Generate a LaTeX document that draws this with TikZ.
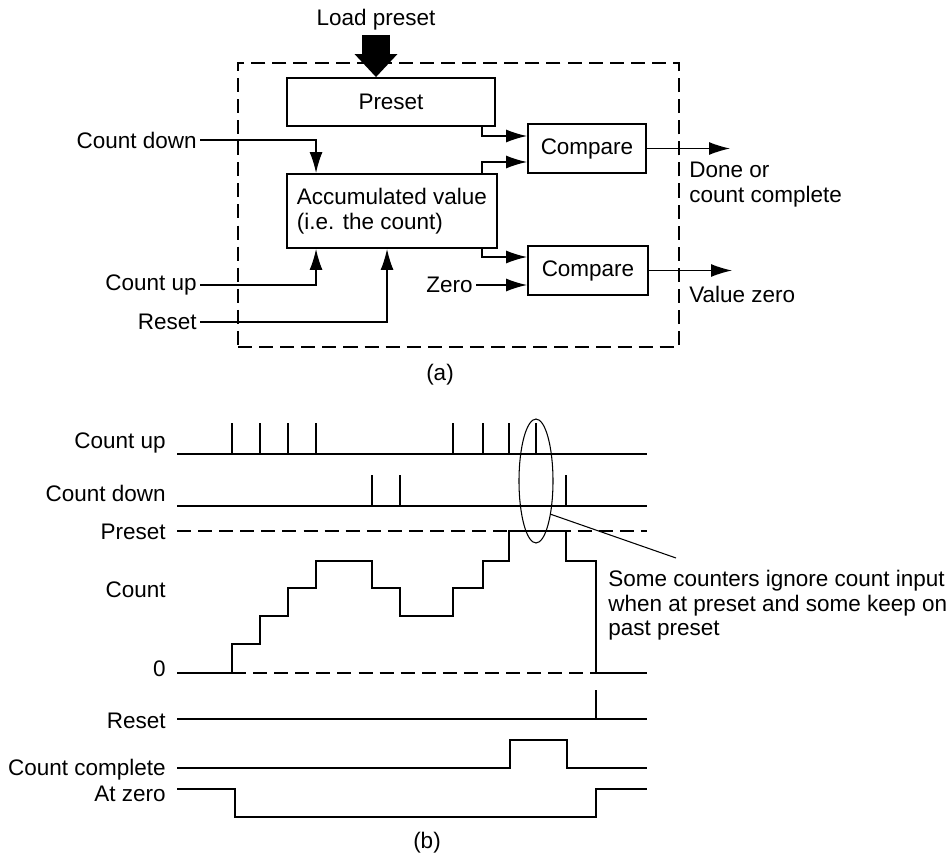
\documentclass[tikz,border=0pt]{standalone}
\usepackage{fontspec}
\setmainfont{Liberation Sans}
\usetikzlibrary{arrows.meta,positioning,calc,shapes.geometric}

\begin{document}
\begin{tikzpicture}[
  x=0.02cm, y=-0.02cm,
  font=\fontsize{12.8}{13.9}\selectfont,
  >={Latex[length=0.42cm,width=0.26cm]},
  block/.style={draw, line width=1.1pt, align=center, inner sep=0pt},
  unitframe/.style={draw, line width=0.7pt, dash pattern=on 8pt off 4pt},
  wire/.style={line width=0.75pt},
  sig/.style={line width=1.1pt},
  limit/.style={line width=0.75pt, dash pattern=on 8pt off 4pt},
  tag/.style={anchor=base east, inner sep=0pt},
  inlabel/.style={anchor=east, inner sep=0.06cm}
]
\useasboundingbox (0,0) rectangle (951,855);

% (a) counter block diagram
\node[unitframe, minimum width=8.82cm, minimum height=5.68cm] (unit) at (458.5,205) {};
\node[block, minimum width=4.16cm, minimum height=0.96cm] (preset) at (391,102) {Preset};
\node[block, minimum width=4.2cm, minimum height=1.48cm, align=left] (acc) at (392,211)
  {Accumulated value\\(i.e. the count)};
\node[block, minimum width=2.36cm, minimum height=0.98cm] (cmpdone) at (587,148.5) {Compare};
\node[block, minimum width=2.4cm, minimum height=0.98cm] (cmpzero) at (588,270.5) {Compare};

\node[anchor=south, inner sep=0.08cm] (load) at (376,35) {Load preset};
\draw[line width=0.56cm, -{Triangle[length=0.46cm,width=0.86cm,line width=0pt]}]
  (load.south) -- (load.south |- preset.north);

\draw[wire, ->] ([xshift=-0.28cm]preset.south east) |- ([yshift=0.25cm]cmpdone.west);
\draw[wire, ->] ([xshift=-0.32cm]acc.north east) |- ([yshift=-0.27cm]cmpdone.west);
\draw[wire, ->] ([xshift=-0.32cm]acc.south east) |- ([yshift=0.27cm]cmpzero.west);

\node[inlabel] (cdown) at (200,140) {Count down};
\node[inlabel] (cup) at (200,285) {Count up};
\node[inlabel] (reset) at (200,322) {Reset};
\node[inlabel] (zero) at (476,285) {Zero};

\draw[wire, ->] (cdown.east) -| ([xshift=0.6cm]acc.north west);
\draw[wire, ->] (cup.east) -| ([xshift=0.6cm]acc.south west);
\draw[wire, ->] (reset.east) -| ([xshift=2.02cm]acc.south west);
\draw[wire, ->] (zero.east) -- (zero.east -| cmpzero.west);

\coordinate (doneout) at (730,148.5);
\coordinate (zeroout) at (732,270.5);
\draw[wire, ->] (cmpdone.east) -- (doneout);
\draw[wire, ->] (cmpzero.east) -- (zeroout);

\node[anchor=north west, inner sep=0pt, align=left] (donelbl) at (689,162) {Done or\\count complete};
\node[anchor=base west, inner sep=0pt] (zerolbl) at (689,302) {Value zero};
\node (capa) at (440,375) {(a)};

% (b) timing diagram
\node[tag] (lblup) at (166,448) {Count up};
\node[tag] (lbldown) at (166,501) {Count down};
\node[tag] (lblpreset) at (166,539) {Preset};
\node[tag] (lblcount) at (166,597) {Count};
\node[tag] (lblzero) at (166,676) {0};
\node[tag] (lblreset) at (166,728) {Reset};
\node[tag] (lblcc) at (166,775) {Count complete};
\node[tag] (lblatzero) at (166,801) {At zero};

\draw[sig] (177,454) -- (647,454)
  (232,454) -- (232,423) (260,454) -- (260,423) (288,454) -- (288,423) (316,454) -- (316,423)
  (453,454) -- (453,423) (483,454) -- (483,423) (509,454) -- (509,423) (536,454) -- (536,423);
\draw[sig] (177,506) -- (647,506)
  (372,506) -- (372,475) (400,506) -- (400,475) (566,506) -- (566,475);

\draw[limit] (177,531) -- (647,531);
\draw[limit] (232,673) -- (596,673);
\draw[sig] (177,673) -- (232,673) -- (232,644) -- (260,644) -- (260,616) -- (288,616)
  -- (288,588) -- (316,588) -- (316,561) -- (372,561) -- (372,588) -- (400,588)
  -- (400,616) -- (453,616) -- (453,588) -- (483,588) -- (483,561) -- (509,561)
  -- (509,531) -- (566,531) -- (566,561) -- (596,561) -- (596,673) -- (647,673);

\draw[sig] (177,719) -- (647,719) (596,719) -- (596,690);
\draw[sig] (177,768) -- (510,768) -- (510,740) -- (567,740) -- (567,768) -- (647,768);
\draw[sig] (177,789) -- (235,789) -- (235,817) -- (596,817) -- (596,789) -- (647,789);

\node[draw, ellipse, line width=0.6pt, minimum width=0.68cm, minimum height=2.48cm, inner sep=0pt]
  (ring) at (536,481) {};
\coordinate (leadend) at (676,558);
\draw[line width=0.6pt] (ring.-66) -- (leadend);
\node[anchor=north west, inner sep=0pt, align=left] (note) at (608,570)
  {Some counters ignore count input\\when at preset and some keep on\\past preset};
\node (capb) at (427,843) {(b)};

\end{tikzpicture}
\end{document}
